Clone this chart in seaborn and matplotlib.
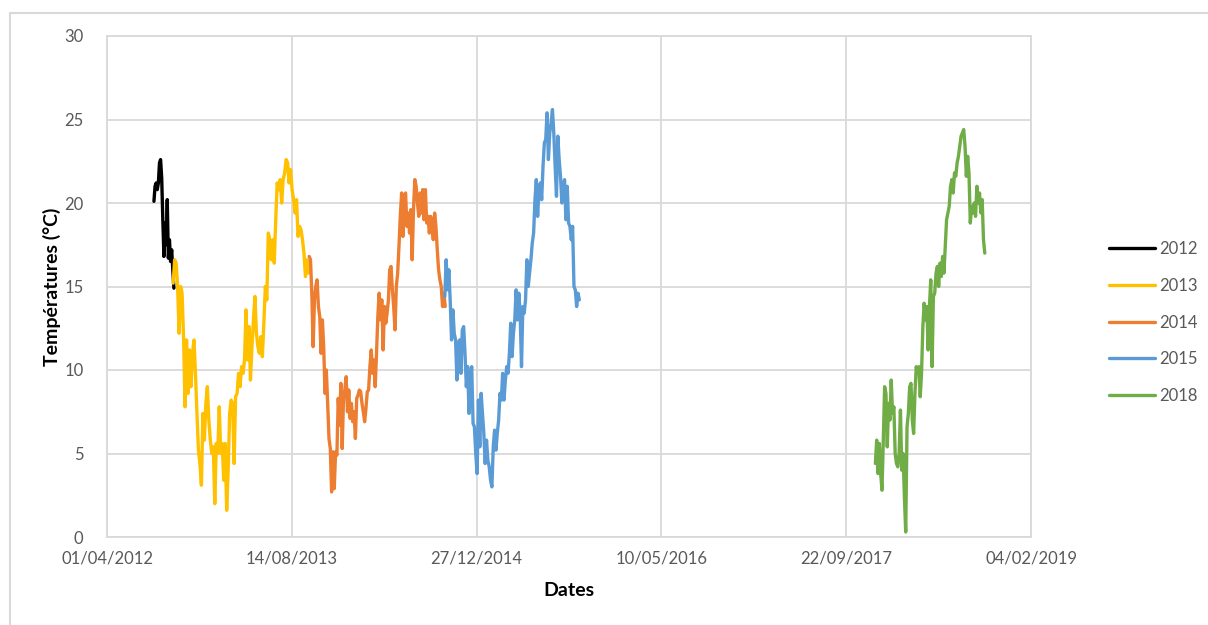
import numpy as np
import pandas as pd
import seaborn as sns
import matplotlib.pyplot as plt
import matplotlib.dates as mdates
from matplotlib.lines import Line2D

# temperatures, one list per year series
t_2012 = [20.1, 21.0, 21.2, 20.8, 21.2, 22.4, 22.6, 21.5, 19.0, 16.8, 18.8, 17.5,
          20.2, 16.7, 17.8, 16.5, 17.2, 16.0, 14.9]
t_2013 = [15.2, 16.6, 16.4, 15.0, 12.2, 15.0, 14.6, 12.0, 7.8, 11.8, 8.6, 11.2, 9.0,
          11.0, 11.8, 9.8, 7.4, 5.2, 4.4, 3.1, 7.4, 5.8, 8.0, 9.0, 7.0, 5.8, 5.0, 5.4,
          2.0, 5.6, 5.0, 7.8, 5.0, 5.6, 3.4, 5.6, 1.6, 4.0, 7.4, 8.2, 8.0, 4.4, 8.4,
          8.6, 9.8, 9.0, 10.2, 9.8, 10.6, 13.6, 10.6, 12.6, 9.4, 11.4, 13.0, 14.4,
          12.2, 11.4, 11.0, 12.0, 10.8, 12.8, 15.0, 14.2, 18.2, 17.8, 16.6, 17.8,
          16.4, 19.0, 21.2, 20.8, 21.4, 20.0, 21.4, 21.8, 22.6, 22.4, 21.2, 22.0,
          20.8, 20.2, 19.4, 20.2, 18.0, 18.6, 18.4, 17.8, 17.0, 15.6, 16.6, 15.8]
t_2014 = [16.8, 16.6, 14.6, 11.4, 14.2, 15.0, 15.4, 13.8, 13.2, 11.0, 13.0, 11.4,
          8.6, 10.0, 8.0, 5.9, 5.3, 2.7, 5.1, 2.9, 5.1, 4.9, 8.3, 6.7, 9.2, 5.3, 8.3,
          8.8, 9.6, 7.5, 8.8, 7.1, 8.0, 6.9, 7.5, 5.9, 8.3, 8.5, 8.8, 8.7, 8.0, 7.5,
          6.9, 7.7, 8.7, 8.8, 10.2, 11.2, 9.8, 10.6, 9.0, 11.0, 13.2, 14.6, 13.0,
          14.2, 11.2, 13.8, 12.8, 13.4, 14.2, 16.0, 16.2, 14.8, 13.8, 12.4, 15.0,
          15.8, 17.4, 19.2, 20.6, 18.0, 20.4, 20.6, 18.6, 19.4, 18.2, 19.6, 16.6,
          19.6, 21.4, 21.0, 20.0, 19.2, 20.6, 19.4, 20.8, 19.0, 20.8, 18.8, 19.2,
          18.2, 19.2, 18.6, 17.8, 19.4, 18.6, 17.2, 16.0, 15.4, 15.0, 13.8, 14.6,
          13.8]
t_2015 = [14.4, 16.6, 14.8, 16.0, 14.2, 11.8, 13.6, 12.2, 11.8, 9.4, 11.6, 11.8,
          9.8, 12.4, 12.6, 11.0, 9.0, 10.2, 7.4, 9.6, 10.2, 6.8, 6.6, 5.0, 3.8, 8.2,
          5.4, 8.6, 7.4, 6.2, 4.4, 5.8, 4.6, 4.2, 3.4, 3.0, 5.4, 6.4, 5.2, 6.2, 7.0,
          8.6, 8.2, 9.8, 8.2, 9.4, 10.2, 9.8, 11.0, 12.8, 10.8, 12.2, 13.0, 14.8,
          13.0, 14.6, 13.4, 10.2, 13.8, 13.4, 14.2, 16.6, 15.0, 15.8, 16.6, 17.6,
          18.2, 20.2, 21.4, 19.2, 20.8, 21.2, 20.2, 22.2, 23.6, 23.8, 25.4, 22.6,
          24.2, 24.8, 25.6, 24.2, 22.2, 20.4, 24.0, 22.6, 21.6, 20.0, 21.0, 21.4,
          19.0, 21.0, 18.8, 18.6, 17.8, 18.6, 15.0, 14.8, 13.8, 14.6, 14.2]
t_2018 = [4.4, 5.8, 3.8, 5.6, 3.8, 2.8, 5.8, 9.0, 8.6, 5.4, 8.0, 7.0, 9.4, 7.4,
          7.8, 5.0, 4.4, 4.2, 5.0, 7.6, 4.0, 5.0, 2.4, 0.3, 6.6, 7.4, 9.0, 9.2, 7.0,
          6.2, 8.6, 10.2, 9.8, 10.2, 8.4, 9.8, 12.6, 14.0, 13.0, 13.8, 11.2, 13.8,
          15.4, 10.2, 14.4, 14.6, 15.8, 16.2, 15.0, 16.4, 15.6, 16.8, 15.8, 17.4,
          19.0, 19.4, 19.8, 21.0, 21.4, 20.6, 21.8, 21.6, 22.4, 22.8, 23.4, 24.0,
          24.2, 24.4, 23.4, 21.6, 22.8, 21.8, 18.8, 19.8, 19.4, 20.0, 19.2, 21.0,
          20.0, 20.6, 19.4, 20.2, 17.8, 17.0]

years = ["2012", "2013", "2014", "2015", "2018"]
series = [t_2012, t_2013, t_2014, t_2015, t_2018]
first_day = ["2012-08-06", "2012-09-27", "2013-09-30", "2014-10-02", "2017-12-10"]
last_day = ["2012-09-29", "2013-09-28", "2014-10-03", "2015-10-01", "2018-10-02"]
colors = ["#000000", "#FFC000", "#ED7D31", "#5B9BD5", "#70AD47"]

frames = []
for year, vals, d0, d1 in zip(years, series, first_day, last_day):
    frames.append(pd.DataFrame({
        "date": pd.date_range(d0, d1, periods=len(vals)),
        "temp": vals,
        "year": year,
    }))
df = pd.concat(frames, ignore_index=True)

sns.set_style("white")
plt.rcParams["font.family"] = ["Lato", "DejaVu Sans"]

fig = plt.figure(figsize=(12.08, 6.25), dpi=100)
ax = fig.add_axes([107 / 1208, 1 - 537 / 625, 924 / 1208, 501 / 625])

sns.lineplot(data=df, x="date", y="temp", hue="year", palette=dict(zip(years, colors)),
             linewidth=2.4, ax=ax, legend=False, estimator=None, sort=False)

grid_c = "#d9d9d9"
x0 = pd.Timestamp("2012-04-01")
ticks = [x0 + pd.Timedelta(days=500 * i) for i in range(6)]
ax.set_xlim(ticks[0], ticks[-1])
ax.set_xticks(ticks)
ax.xaxis.set_major_formatter(mdates.DateFormatter("%d/%m/%Y"))
ax.set_ylim(0, 30)
ax.set_yticks(np.arange(0, 31, 5))
ax.grid(True, color=grid_c, linewidth=1.3)
ax.set_axisbelow(True)
for s in ax.spines.values():
    s.set_color(grid_c)
    s.set_linewidth(1.3)
ax.tick_params(length=0, labelsize=12, colors="#595959", pad=10)
ax.tick_params(axis="y", pad=17)

ax.set_xlabel("Dates", fontsize=14, fontweight="bold", color="black", labelpad=11)
ax.set_ylabel("Températures (°C)", fontsize=14, fontweight="bold", color="black",
              labelpad=2)

handles = [Line2D([], [], color=c, linewidth=2.4) for c in colors]
ax.legend(handles, years, loc="center left", bbox_to_anchor=(1.075, 0.428),
          frameon=False, fontsize=12, handlelength=2.8, handletextpad=0.25,
          labelspacing=1.24, borderpad=0, labelcolor="#595959")

# outer chart border as in the screenshot
fig.add_artist(Line2D([10 / 1208, 10 / 1208], [0, 1 - 13 / 625], color=grid_c,
                      linewidth=1.5, transform=fig.transFigure))
fig.add_artist(Line2D([10 / 1208, 1], [1 - 13 / 625, 1 - 13 / 625], color=grid_c,
                      linewidth=1.5, transform=fig.transFigure))

fig.savefig("out.png", dpi=100)
